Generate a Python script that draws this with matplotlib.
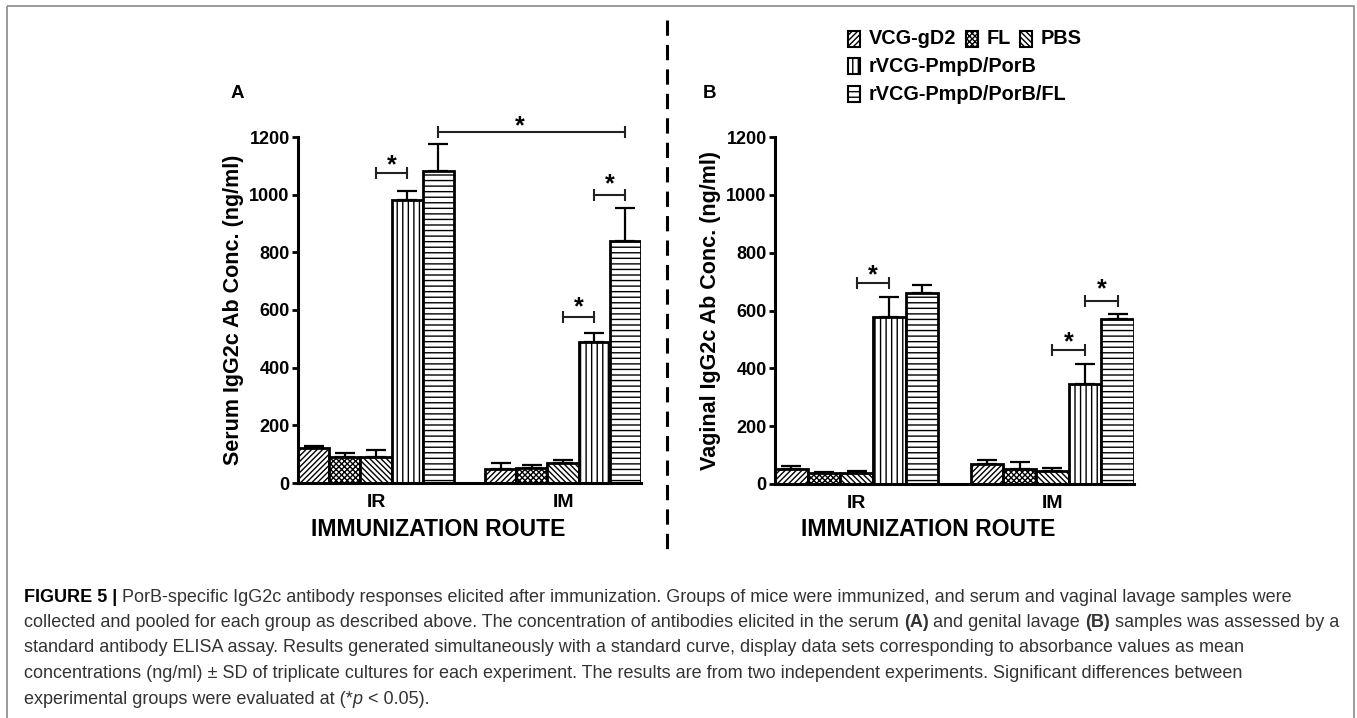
import numpy as np
import matplotlib
matplotlib.use("Agg")
import matplotlib.pyplot as plt
from matplotlib.patches import Rectangle

plt.rcParams['font.family'] = ['Liberation Sans', 'DejaVu Sans']
plt.rcParams['hatch.linewidth'] = 1.0

# data (ng/ml, mean and SD)
groups = ["IR", "IM"]
series = ["VCG-gD2", "FL", "PBS", "rVCG-PmpD/PorB", "rVCG-PmpD/PorB/FL"]
hatches = ["//////", "xxxxxx", "\\\\\\\\\\\\", "|||", "---"]

serum_ir = [120, 89, 91, 982, 1082]
serum_ir_sd = [8, 14, 23, 32, 94]
serum_im = [47, 53, 68, 490, 839]
serum_im_sd = [21, 9, 12, 31, 114]

vag_ir = [51, 37, 39, 577, 660]
vag_ir_sd = [11, 6, 7, 69, 29]
vag_im = [70, 53, 44, 345, 572]
vag_im_sd = [13, 22, 10, 69, 16]

# significance brackets: (bar i, bar j, bracket y, star x, star y)
sig_A = [(2, 3, 1074, 2.5, 1124), (8, 9, 575, 8.5, 632), (9, 10, 999, 9.5, 1061),
         (4, 10, 1216, 6.6, 1262)]
sig_B = [(2, 3, 694, 2.5, 744), (8, 9, 464, 8.5, 515), (9, 10, 634, 9.5, 698)]

W, H = 1357, 718
fig = plt.figure(figsize=(W / 100, H / 100), dpi=100)

# background axes in pixel coords for frame, divider and caption
bg = fig.add_axes([0, 0, 1, 1])
bg.set_xlim(0, W)
bg.set_ylim(H, 0)
bg.axis('off')
bg.add_patch(Rectangle((7, 6), 1347, 740, fill=False, ec='#8a8a8a', lw=1.2, clip_on=False))
bg.plot([667, 667], [20, 551], color='black', lw=2.2, dashes=(5, 3))


def panel(ax, ir, ir_sd, im, im_sd, sigs, ylabel):
    for s in range(len(series)):
        x = [s, s + 6]
        h = [ir[s], im[s]]
        ax.bar(x, h, width=1, color='white', edgecolor='black', hatch=hatches[s], lw=2, zorder=2)
        ax.errorbar(x, h, yerr=[[0, 0], [ir_sd[s], im_sd[s]]], fmt='none', ecolor='black',
                    elinewidth=1.6, capsize=7, capthick=1.6, zorder=1)
    for i, j, y, sx, sy in sigs:
        ax.plot([i, j], [y, y], color='#222222', lw=1.5, marker='|', ms=8, mew=1.5, clip_on=False)
        ax.annotate('*', xy=(sx, sy), xytext=(0, -10), textcoords='offset points',
                    ha='center', va='baseline', fontsize=18, fontweight='bold', annotation_clip=False)
    ax.set_xlim(-0.5, 10.5)
    ax.set_ylim(0, 1200)
    ax.set_yticks(np.arange(0, 1201, 200))
    ax.set_xticks([2, 8])
    ax.set_xticklabels(groups)
    ax.tick_params(axis='x', length=0, pad=8, labelsize=14)
    ax.tick_params(axis='y', direction='out', length=4, width=2, pad=2, labelsize=13)
    for lab in ax.get_xticklabels() + ax.get_yticklabels():
        lab.set_fontweight('bold')
    for sp in ['top', 'right']:
        ax.spines[sp].set_visible(False)
    for sp in ['left', 'bottom']:
        ax.spines[sp].set_linewidth(2.2)
    ax.set_ylabel(ylabel, fontsize=15.5, fontweight='bold', labelpad=4)


axA = fig.add_axes([298 / W, (H - 483) / H, 343 / W, 346 / H])
panel(axA, serum_ir, serum_ir_sd, serum_im, serum_im_sd, sig_A, "Serum IgG2c Ab Conc. (ng/ml)")
axA.text(0.408, -0.133, "IMMUNIZATION ROUTE", transform=axA.transAxes, ha='center', va='center',
         fontsize=16.6, fontweight='bold')

axB = fig.add_axes([775 / W, (H - 484) / H, 359 / W, 347 / H])
panel(axB, vag_ir, vag_ir_sd, vag_im, vag_im_sd, sig_B, "Vaginal IgG2c Ab Conc. (ng/ml)")
axB.text(0.426, -0.13, "IMMUNIZATION ROUTE", transform=axB.transAxes, ha='center', va='center',
         fontsize=16.6, fontweight='bold')

bg.text(237, 94, "A", ha='center', va='center', fontsize=13.5, fontweight='bold')
bg.text(710, 93, "B", ha='center', va='center', fontsize=13.5, fontweight='bold')

# legend drawn by hand (irregular layout)
leg_pos = [(848, 31), (966, 31), (1020, 31), (848, 58), (848, 86)]
for (lx, ly), name, hp in zip(leg_pos, series, hatches):
    bg.add_patch(Rectangle((lx, ly), 12, 16, facecolor='white', edgecolor='black', hatch=hp, lw=1.5))
    bg.text(lx + 21, ly + 8, name, ha='left', va='center', fontsize=14.3, fontweight='bold')

# caption
cap_lines = [
    [("FIGURE 5 |", 'bold', 'normal'),
     (" PorB-specific IgG2c antibody responses elicited after immunization. Groups of mice were immunized, and serum and vaginal lavage samples were", 'normal', 'normal')],
    [("collected and pooled for each group as described above. The concentration of antibodies elicited in the serum ", 'normal', 'normal'),
     ("(A)", 'bold', 'normal'), (" and genital lavage ", 'normal', 'normal'), ("(B)", 'bold', 'normal'),
     (" samples was assessed by a", 'normal', 'normal')],
    [("standard antibody ELISA assay. Results generated simultaneously with a standard curve, display data sets corresponding to absorbance values as mean", 'normal', 'normal')],
    [("concentrations (ng/ml) \u00b1 SD of triplicate cultures for each experiment. The results are from two independent experiments. Significant differences between", 'normal', 'normal')],
    [("experimental groups were evaluated at (*", 'normal', 'normal'), ("p", 'normal', 'italic'),
     (" < 0.05).", 'normal', 'normal')],
]
cap_y = [597, 622.5, 648, 673.5, 699]
for line, y in zip(cap_lines, cap_y):
    prev = None
    for txt, wt, st in line:
        col = 'black' if txt.startswith("FIGURE") else '#333333'
        if prev is None:
            prev = bg.annotate(txt, xy=(24, y), xycoords='data', ha='left', va='center',
                               fontsize=13, fontweight=wt, fontstyle=st, color=col)
        else:
            prev = bg.annotate(txt, xy=(1, 0), xycoords=prev, ha='left', va='bottom',
                               fontsize=13, fontweight=wt, fontstyle=st, color=col)

fig.savefig("out.png", dpi=100, facecolor='white')
